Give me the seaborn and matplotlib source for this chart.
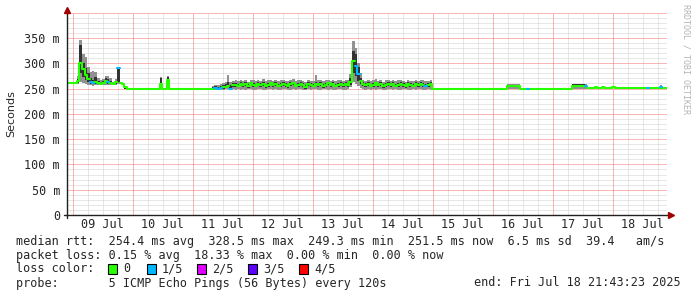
import numpy as np
import pandas as pd
import matplotlib
matplotlib.use("Agg")
import matplotlib.pyplot as plt
import matplotlib.dates as mdates
from matplotlib.patches import Rectangle
import seaborn as sns

# ---------------- data (hours since start, step values in ms) ----------------
start_time = "2025-07-08 21:43:23"

hours = ([0, 4, 5, 6, 7, 8, 9, 10, 11, 12, 13, 14, 15, 16, 17, 18, 19, 20, 21, 22, 23, 24,
          37, 38, 40, 41,
          58, 59, 60, 61, 62, 63, 64, 65]
         + list(range(66, 146))
         + [146, 176, 181, 184, 185, 202, 207, 208, 211, 212, 214, 215, 218, 219,
            232, 233, 237, 238, 240])

median = ([260, 264, 300, 288, 276, 268, 262, 260, 262, 260, 259, 260, 265, 262, 260, 259, 262, 290, 260, 259, 252, 250,
           258, 250, 266, 250,
           250, 251, 250, 251, 252, 253, 255, 250]
          + [256, 257, 255, 259, 256, 258, 254, 260, 257, 255, 258, 256, 259, 254, 257, 260, 256, 258, 255, 257,
             259, 256, 254, 258, 260, 255, 257, 259, 256, 253, 258, 257, 255, 259, 256, 258, 254, 257, 260, 256,
             258, 255, 257, 259, 256, 258, 257,
             262, 305, 295, 278, 264,
             258, 256, 259, 255, 257, 260, 256, 258, 254, 257, 259, 256, 258, 255, 257, 259, 256, 254, 258, 257,
             255, 259, 256, 258, 257, 255, 256, 258]
          + [250, 255, 249, 250, 250, 255, 255, 251.5, 253, 251.5, 253, 251.5, 253, 251.5,
             251.5, 251.5, 252, 251.5, 251.5])

ping_min = ([259, 259, 262, 260, 258, 257, 256, 255, 256, 256, 256, 257, 257, 257, 257, 257, 257, 258, 258, 258, 249, 249,
             249, 249, 249, 249,
             248, 248, 248, 248, 248, 249, 249, 248]
            + [249, 248, 250, 247, 249, 248, 250, 249, 247, 248, 250, 249, 248, 247, 249, 250, 248, 249, 247, 248,
               250, 249, 248, 247, 249, 248, 250, 249, 248, 247, 249, 248, 250, 249, 247, 248, 249, 250, 248, 249,
               247, 248, 250, 249, 248, 247, 249,
               252, 262, 258, 255, 251,
               249, 248, 250, 247, 249, 248, 250, 249, 248, 247, 249, 250, 248, 249, 247, 248, 250, 249, 248, 247,
               249, 248, 250, 249, 247, 248, 249, 248]
            + [249, 250, 248, 249, 249, 250, 250, 250.5, 251, 250.5, 251, 250.5, 251, 250.5,
               250.5, 250.5, 250, 250.5, 250.5])

ping_lo = ([260, 261, 280, 272, 266, 262, 259, 258, 259, 258, 258, 259, 260, 259, 259, 258, 259, 262, 259, 259, 250, 250,
            252, 250, 252, 250,
            249, 249, 249, 250, 250, 251, 252, 249]
           + [253, 253, 252, 255, 252, 254, 251, 256, 253, 252, 254, 252, 255, 251, 253, 256, 252, 254, 252, 253,
              255, 252, 251, 254, 256, 252, 253, 255, 252, 250, 254, 253, 252, 255, 252, 254, 251, 253, 256, 252,
              254, 252, 253, 255, 252, 254, 253,
              256, 280, 275, 265, 258,
              254, 252, 255, 252, 253, 256, 252, 254, 251, 253, 255, 252, 254, 252, 253, 255, 252, 251, 254, 253,
              252, 255, 252, 254, 253, 252, 252, 254]
           + [250, 253, 249, 250, 250, 253, 253, 251, 252, 251, 252, 251, 252, 251,
              251, 251, 251, 251, 251])

ping_hi = ([260, 268, 335, 300, 290, 280, 270, 266, 272, 264, 262, 264, 270, 268, 264, 261, 265, 290, 261, 260, 253, 250,
            270, 250, 272, 250,
            252, 254, 253, 255, 256, 258, 262, 257]
           + [260, 261, 259, 262, 260, 262, 258, 263, 261, 259, 262, 260, 263, 258, 261, 263, 260, 262, 259, 261,
              262, 260, 258, 262, 263, 259, 261, 262, 260, 257, 262, 261, 259, 262, 260, 262, 258, 261, 263, 260,
              262, 259, 261, 262, 260, 262, 261,
              270, 325, 318, 292, 270,
              262, 260, 262, 259, 261, 263, 260, 262, 258, 261, 262, 260, 262, 259, 261, 262, 260, 258, 262, 261,
              259, 262, 260, 262, 261, 259, 260, 262]
           + [250, 257, 250, 250, 250, 258, 257, 252, 254, 252, 254, 252, 254, 252,
              252, 252, 255, 252, 252])

ping_max = ([261, 275, 345, 318, 312, 292, 282, 285, 282, 270, 266, 268, 274, 275, 270, 263, 268, 293, 262, 261, 254, 251,
             273, 251, 275, 251,
             255, 257, 256, 258, 260, 262, 277, 263]
            + [265, 266, 264, 267, 265, 266, 263, 267, 266, 264, 267, 265, 268, 264, 266, 267, 265, 266, 264, 266,
               267, 265, 264, 266, 268, 264, 266, 267, 265, 263, 266, 265, 264, 277, 266, 266, 264, 266, 267, 265,
               266, 264, 266, 267, 265, 266, 266,
               278, 343, 330, 300, 280,
               266, 265, 267, 264, 266, 268, 265, 266, 263, 266, 267, 265, 266, 264, 266, 267, 265, 263, 266, 265,
               264, 267, 265, 266, 266, 264, 265, 266]
            + [251, 258, 250, 251, 251, 259, 258, 252.5, 255, 252.5, 255, 252.5, 255, 252.5,
               252.5, 252.5, 256, 252.5, 252.5])

lost = ([0, 0, 0, 0, 0, 0, 1, 1, 0, 0, 0, 0, 0, 1, 0, 0, 0, 1, 0, 0, 0, 0,
         0, 0, 0, 0,
         0, 1, 1, 1, 0, 0, 0, 1]
        + [0] * 49 + [1, 1] + [0] * 26 + [1, 0, 0]
        + [0, 0, 0, 1, 0, 0, 1, 0, 0, 0, 0, 0, 0, 0,
           1, 0, 1, 0, 0])

loss_labels = ["0", "1/5", "2/5", "3/5", "4/5"]
loss_colors = ["#26ff00", "#00b8ff", "#dd00ff", "#5e00ff", "#ff0000"]

y_ticks = [0, 50, 100, 150, 200, 250, 300, 350]
y_tick_labels = ["0", "50 m", "100 m", "150 m", "200 m", "250 m", "300 m", "350 m"]
x_tick_days = ["2025-07-09", "2025-07-10", "2025-07-11", "2025-07-12", "2025-07-13",
               "2025-07-14", "2025-07-15", "2025-07-16", "2025-07-17", "2025-07-18"]
x_tick_labels = ["09 Jul", "10 Jul", "11 Jul", "12 Jul", "13 Jul",
                 "14 Jul", "15 Jul", "16 Jul", "17 Jul", "18 Jul"]

row_rtt = "median rtt:  254.4 ms avg  328.5 ms max  249.3 ms min  251.5 ms now  6.5 ms sd  39.4   am/s"
row_loss = "packet loss: 0.15 % avg  18.33 % max  0.00 % min  0.00 % now"
row_color = "loss color:"
row_probe = "probe:       5 ICMP Echo Pings (56 Bytes) every 120s"
row_end = "end: Fri Jul 18 21:43:23 2025"
credit = "RRDTOOL / TOBI OETIKER"

# ---------------- figure ----------------
sns.set_style("white")
plt.rcParams["font.family"] = ["DejaVu Sans Mono"]
MONO = "DejaVu Sans Mono"
FS = 8.5

t0 = pd.Timestamp(start_time)
times = t0 + pd.to_timedelta(np.array(hours, dtype=float), unit="h")
df = pd.DataFrame({"time": times, "median": median, "pmin": ping_min, "plo": ping_lo,
                   "phi": ping_hi, "pmax": ping_max, "lost": lost})
xd = mdates.date2num(df["time"].dt.to_pydatetime())

# runs of equal loss class (each class is its own line, not joined to the others)
n = len(xd)
run_rows = []
run_id = 0
i = 0
while i < n - 1:
    c = lost[i]
    j = i
    while j + 1 < n - 1 and lost[j + 1] == c:
        j += 1
    for k in range(i, j + 1):
        run_rows.append((run_id, c, xd[k], median[k]))
    run_rows.append((run_id, c, xd[j + 1], median[j]))
    run_id += 1
    i = j + 1
runs = pd.DataFrame(run_rows, columns=["run", "cls", "x", "y"])

W, H = 697, 297
fig = plt.figure(figsize=(W / 100, H / 100), dpi=100)
fig.patch.set_facecolor("white")
ax = fig.add_axes([67 / W, (H - 215) / H, 600 / W, 202.4 / H])
ax.set_facecolor("white")

x_lo = mdates.date2num(t0.to_pydatetime())
x_hi = mdates.date2num((t0 + pd.Timedelta(hours=240)).to_pydatetime())
ax.set_xlim(x_lo, x_hi)
ax.set_ylim(0, 400)

# grid (drawn manually in RRDtool style)
minor_c, major_c = "#d0d0d0", "#f07070"
dot = (0, (1, 1))
gkw = dict(lw=0.72, ls=dot, snap=True, dash_capstyle="butt")
for v in range(0, 401, 10):
    if v % 50:
        ax.axhline(v, color=minor_c, zorder=0, **gkw)
first_mid = pd.Timestamp("2025-07-09 00:00")
for k in range(-1, 42):
    tt = first_mid + pd.Timedelta(hours=6 * k)
    xv = mdates.date2num(tt.to_pydatetime())
    if x_lo < xv < x_hi and tt.hour != 0:
        ax.axvline(xv, color=minor_c, zorder=0, **gkw)
for v in range(50, 401, 50):
    ax.axhline(v, color=major_c, zorder=0.5, **gkw)
for k in range(0, 11):
    xv = mdates.date2num((first_mid + pd.Timedelta(days=k)).to_pydatetime())
    if x_lo < xv < x_hi:
        ax.axvline(xv, color=major_c, zorder=0.5, **gkw)

# smoke
ax.fill_between(xd, df["pmin"], df["pmax"], step="post", color="#919191", lw=0, zorder=2)
ax.fill_between(xd, df["plo"], df["phi"], step="post", color="#323232", lw=0, zorder=3)

# median line coloured by loss class
palette = {c: loss_colors[c] for c in sorted(runs["cls"].unique())}
sns.lineplot(data=runs, x="x", y="y", hue="cls", units="run", estimator=None,
             palette=palette, drawstyle="steps-post", lw=1.5, sort=False,
             legend=False, ax=ax, zorder=5)

ax.set_xlabel("")
ax.set_ylabel("")
ax.set_xlim(x_lo, x_hi)
ax.set_ylim(0, 400)

# ticks
ax.set_yticks(y_ticks)
ax.set_yticklabels(y_tick_labels, family=MONO, fontsize=FS)
ax.set_yticks(list(range(0, 401, 10)), minor=True)
xt = [mdates.date2num((pd.Timestamp(d) + pd.Timedelta(hours=12)).to_pydatetime()) for d in x_tick_days]
ax.set_xticks(xt)
ax.set_xticklabels(x_tick_labels, family=MONO, fontsize=FS)
ax.tick_params(axis="x", which="major", length=0, pad=2.5)
ax.tick_params(axis="y", which="major", length=4, width=0.8, direction="inout", pad=3, color="#202020")
ax.tick_params(axis="y", which="minor", length=3, width=0.6, direction="inout", color="#404040")
for sp in ax.spines.values():
    sp.set_visible(False)

# axis lines with arrows
ax.plot([0, 0], [-3 / 202.4, 1.0], transform=ax.transAxes, clip_on=False, color="#202020", lw=1, zorder=9)
ax.plot([-3 / 600, 1.005], [0, 0], transform=ax.transAxes, clip_on=False, color="#202020", lw=1, zorder=9)
ax.plot([0], [1 + 2.5 / 202.4], marker="^", ms=4, color="#a00000", transform=ax.transAxes, clip_on=False, zorder=10)
ax.plot([1.006], [0], marker=">", ms=4, color="#a00000", transform=ax.transAxes, clip_on=False, zorder=10)

# labels
fig.text(11 / W, 1 - 114 / H, "Seconds", rotation=90, ha="center", va="center",
         family="DejaVu Sans", fontsize=8)
fig.text(686 / W, 1 - 59 / H, credit, rotation=-90, ha="center", va="center",
         family=MONO, fontsize=6, color="#b4b4b4")

# legend rows
fig.text(16 / W, 1 - 241 / H, row_rtt, ha="left", va="center", family=MONO, fontsize=FS)
fig.text(16 / W, 1 - 255 / H, row_loss, ha="left", va="center", family=MONO, fontsize=FS)
fig.text(16 / W, 1 - 269 / H, row_color, ha="left", va="center", family=MONO, fontsize=FS)
fig.text(16 / W, 1 - 283 / H, row_probe, ha="left", va="center", family=MONO, fontsize=FS)
fig.text(681 / W, 1 - 283 / H, row_end, ha="right", va="center", family=MONO, fontsize=FS)

box_x = [108, 147, 197, 248, 299]
for bx, lab, col in zip(box_x, loss_labels, loss_colors):
    fig.add_artist(Rectangle((bx / W, 1 - 274 / H), 9 / W, 10 / H, transform=fig.transFigure,
                             facecolor=col, edgecolor="black", lw=0.8))
    fig.text((bx + 15) / W, 1 - 269 / H, lab, ha="left", va="center", family=MONO, fontsize=FS)

fig.savefig("out.png", dpi=100, facecolor="white")
